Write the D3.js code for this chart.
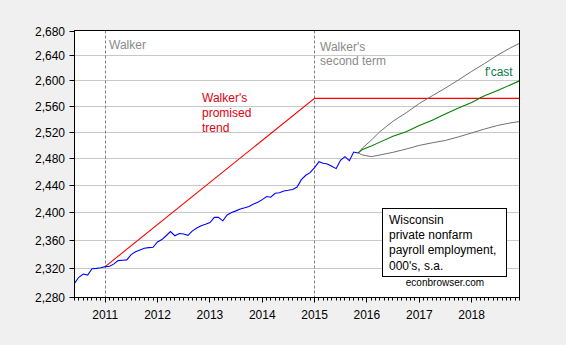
<!DOCTYPE html>
<html>
<head>
<meta charset="utf-8">
<script src="https://cdn.jsdelivr.net/npm/d3@7"></script>
<style>
  html, body { margin: 0; padding: 0; background: #f0f0f0; }
  svg { display: block; }
  text { font-family: "Liberation Sans", Arial, sans-serif; }
</style>
</head>
<body>
<svg id="chart" width="566" height="345"></svg>
<script>
// ---------------- data ----------------
const actualStart = "2010-06";
const actualValues = [
  2299, 2307.5, 2312, 2310.5, 2319.5, 2320, 2321,
  2322.5, 2323, 2326, 2331, 2331.5, 2332, 2339.5, 2343.5, 2346, 2348.5, 2349.5, 2350,
  2357.5, 2361, 2366.5, 2372.5, 2366.5, 2369.7, 2369, 2367, 2373.5, 2377.5, 2381, 2383,
  2385.5, 2393, 2393, 2388, 2396.5, 2400, 2402.5, 2405.3, 2407, 2409, 2412.5, 2415,
  2419, 2423.5, 2422.5, 2428.3, 2429, 2431.8, 2432.7, 2433.8, 2437.5, 2448.5, 2455, 2459,
  2466.5, 2475.5, 2473, 2472, 2468.5, 2465, 2477.5, 2483, 2477, 2490, 2488.5
];
const trendDates = ["2011-01", "2015-01", "2018-12"];
const trendValues = [2322.5, 2572.5, 2572.5];
const fcastDates = ["2015-11","2015-12","2016-02","2016-04","2016-07","2016-10","2017-01",
  "2017-04","2017-07","2017-10","2018-01","2018-04","2018-07","2018-10","2018-12"];
const fcastMid   = [2488.5, 2494, 2499, 2505, 2514, 2521, 2530.5, 2538.5, 2548, 2557.5, 2566, 2576.5, 2585, 2594, 2600];
const fcastUpper = [2488.5, 2496, 2508, 2521, 2537, 2550, 2564.5, 2576.5, 2588.5, 2601.5, 2615, 2627.5, 2641, 2653, 2660];
const fcastLower = [2488.5, 2485.5, 2483, 2485.5, 2489.5, 2494.5, 2500, 2504, 2507.5, 2513, 2519, 2525, 2530.5, 2534.5, 2536.5];
const markerDates = ["2011-01", "2015-01"];
const yTicks = [2280, 2320, 2360, 2400, 2440, 2480, 2520, 2560, 2600, 2640, 2680];
const xDomain = ["2010-06", "2018-12"];
const yDomain = [2280, 2680];
const legendLines = ["Wisconsin", "private nonfarm", "payroll employment,", "000's, s.a."];

// ---------------- layout ----------------
const parse = d3.timeParse("%Y-%m");
const L = 74.5, R = 519.5, T = 30.5, B = 297.5;
const svg = d3.select("#chart");

const x = d3.scaleTime().domain(xDomain.map(parse)).range([L, R]);
const y = d3.scaleLog().domain(yDomain).range([B - 0.5, T + 0.5]);
const snap = v => Math.round(v - 0.5) + 0.5;

// plot background
svg.append("rect").attr("x", L).attr("y", T).attr("width", R - L).attr("height", B - T).attr("fill", "#fff");

// gridlines
svg.append("g").selectAll("line").data(yTicks.filter(d => d > yDomain[0] && d < yDomain[1])).join("line")
  .attr("x1", L).attr("x2", R)
  .attr("y1", d => snap(y(d))).attr("y2", d => snap(y(d)))
  .attr("stroke", "#c8c8c8").attr("stroke-width", 1);

// vertical dashed markers
svg.append("g").selectAll("line").data(markerDates.map(parse)).join("line")
  .attr("x1", d => snap(x(d))).attr("x2", d => snap(x(d)))
  .attr("y1", T).attr("y2", B)
  .attr("stroke", "#808080").attr("stroke-width", 1).attr("stroke-dasharray", "3,2");

// clip
svg.append("clipPath").attr("id", "clip").append("rect")
  .attr("x", L).attr("y", T).attr("width", R - L).attr("height", B - T);
const plot = svg.append("g").attr("clip-path", "url(#clip)");

const line = d3.line().x(d => x(d[0])).y(d => y(d[1]));
const actual = actualValues.map((v, i) => [d3.timeMonth.offset(parse(actualStart), i), v]);
const trend = trendDates.map((d, i) => [parse(d), trendValues[i]]);
const mk = arr => fcastDates.map((d, i) => [parse(d), arr[i]]);

plot.append("path").datum(trend).attr("d", line).attr("fill", "none").attr("stroke", "#ff0000").attr("stroke-width", 1.1);
plot.append("path").datum(mk(fcastUpper)).attr("d", line).attr("fill", "none").attr("stroke", "#707070").attr("stroke-width", 1);
plot.append("path").datum(mk(fcastLower)).attr("d", line).attr("fill", "none").attr("stroke", "#707070").attr("stroke-width", 1);
plot.append("path").datum(mk(fcastMid)).attr("d", line).attr("fill", "none").attr("stroke", "#008000").attr("stroke-width", 1.1);
plot.append("path").datum(actual).attr("d", line).attr("fill", "none").attr("stroke", "#0000ff").attr("stroke-width", 1.1);

// frame
svg.append("rect").attr("x", L).attr("y", T).attr("width", R - L).attr("height", B - T)
  .attr("fill", "none").attr("stroke", "#000").attr("stroke-width", 1);

// y axis ticks and labels
const yg = svg.append("g");
yg.selectAll("line").data(yTicks).join("line")
  .attr("x1", L - 5).attr("x2", L)
  .attr("y1", d => snap(y(d))).attr("y2", d => snap(y(d)))
  .attr("stroke", "#000");
yg.selectAll("text").data(yTicks).join("text")
  .attr("x", 65).attr("y", d => y(d) + 4.5)
  .attr("text-anchor", "end").attr("font-size", 12).attr("fill", "#000")
  .text(d => d3.format(",")(d));

// x axis ticks
const months = d3.timeMonth.range(parse(xDomain[0]), d3.timeMonth.offset(parse(xDomain[1]), 1));
const xg = svg.append("g");
xg.selectAll("line").data(months).join("line")
  .attr("x1", d => snap(x(d))).attr("x2", d => snap(x(d)))
  .attr("y1", B).attr("y2", d => d.getMonth() === 0 ? B + 5 : B + 3)
  .attr("stroke", "#000");
const years = months.filter(d => d.getMonth() === 0);
xg.selectAll("text").data(years).join("text")
  .attr("x", d => x(d)).attr("y", 318.5)
  .attr("text-anchor", "middle").attr("font-size", 12).attr("fill", "#000")
  .text(d => d3.timeFormat("%Y")(d));

// annotations
const ann = svg.append("g").attr("font-size", 12);
ann.append("text").attr("x", 109).attr("y", 48.5).attr("fill", "#8a8a8a").text("Walker");
ann.append("text").attr("x", 320).attr("y", 50.5).attr("fill", "#8a8a8a").text("Walker's");
ann.append("text").attr("x", 320).attr("y", 64.5).attr("fill", "#8a8a8a").text("second term");
ann.append("text").attr("x", 202).attr("y", 102).attr("fill", "#e00010").text("Walker's");
ann.append("text").attr("x", 202).attr("y", 117).attr("fill", "#e00010").text("promised");
ann.append("text").attr("x", 202).attr("y", 131.5).attr("fill", "#e00010").text("trend");
ann.append("text").attr("x", 485).attr("y", 75.5).attr("fill", "#0a7a4a").text("f'cast");

// legend box
svg.append("rect").attr("x", 382.5).attr("y", 208.5).attr("width", 124).attr("height", 68)
  .attr("fill", "#fff").attr("stroke", "#000").attr("stroke-width", 1);
svg.append("g").selectAll("text").data(legendLines).join("text")
  .attr("x", 389).attr("y", (d, i) => 224 + i * 15.2)
  .attr("font-size", 12).attr("fill", "#000").text(d => d);
svg.append("text").attr("x", 445).attr("y", 285.5).attr("text-anchor", "middle")
  .attr("font-size", 10).attr("fill", "#000").text("econbrowser.com");
</script>
</body>
</html>
